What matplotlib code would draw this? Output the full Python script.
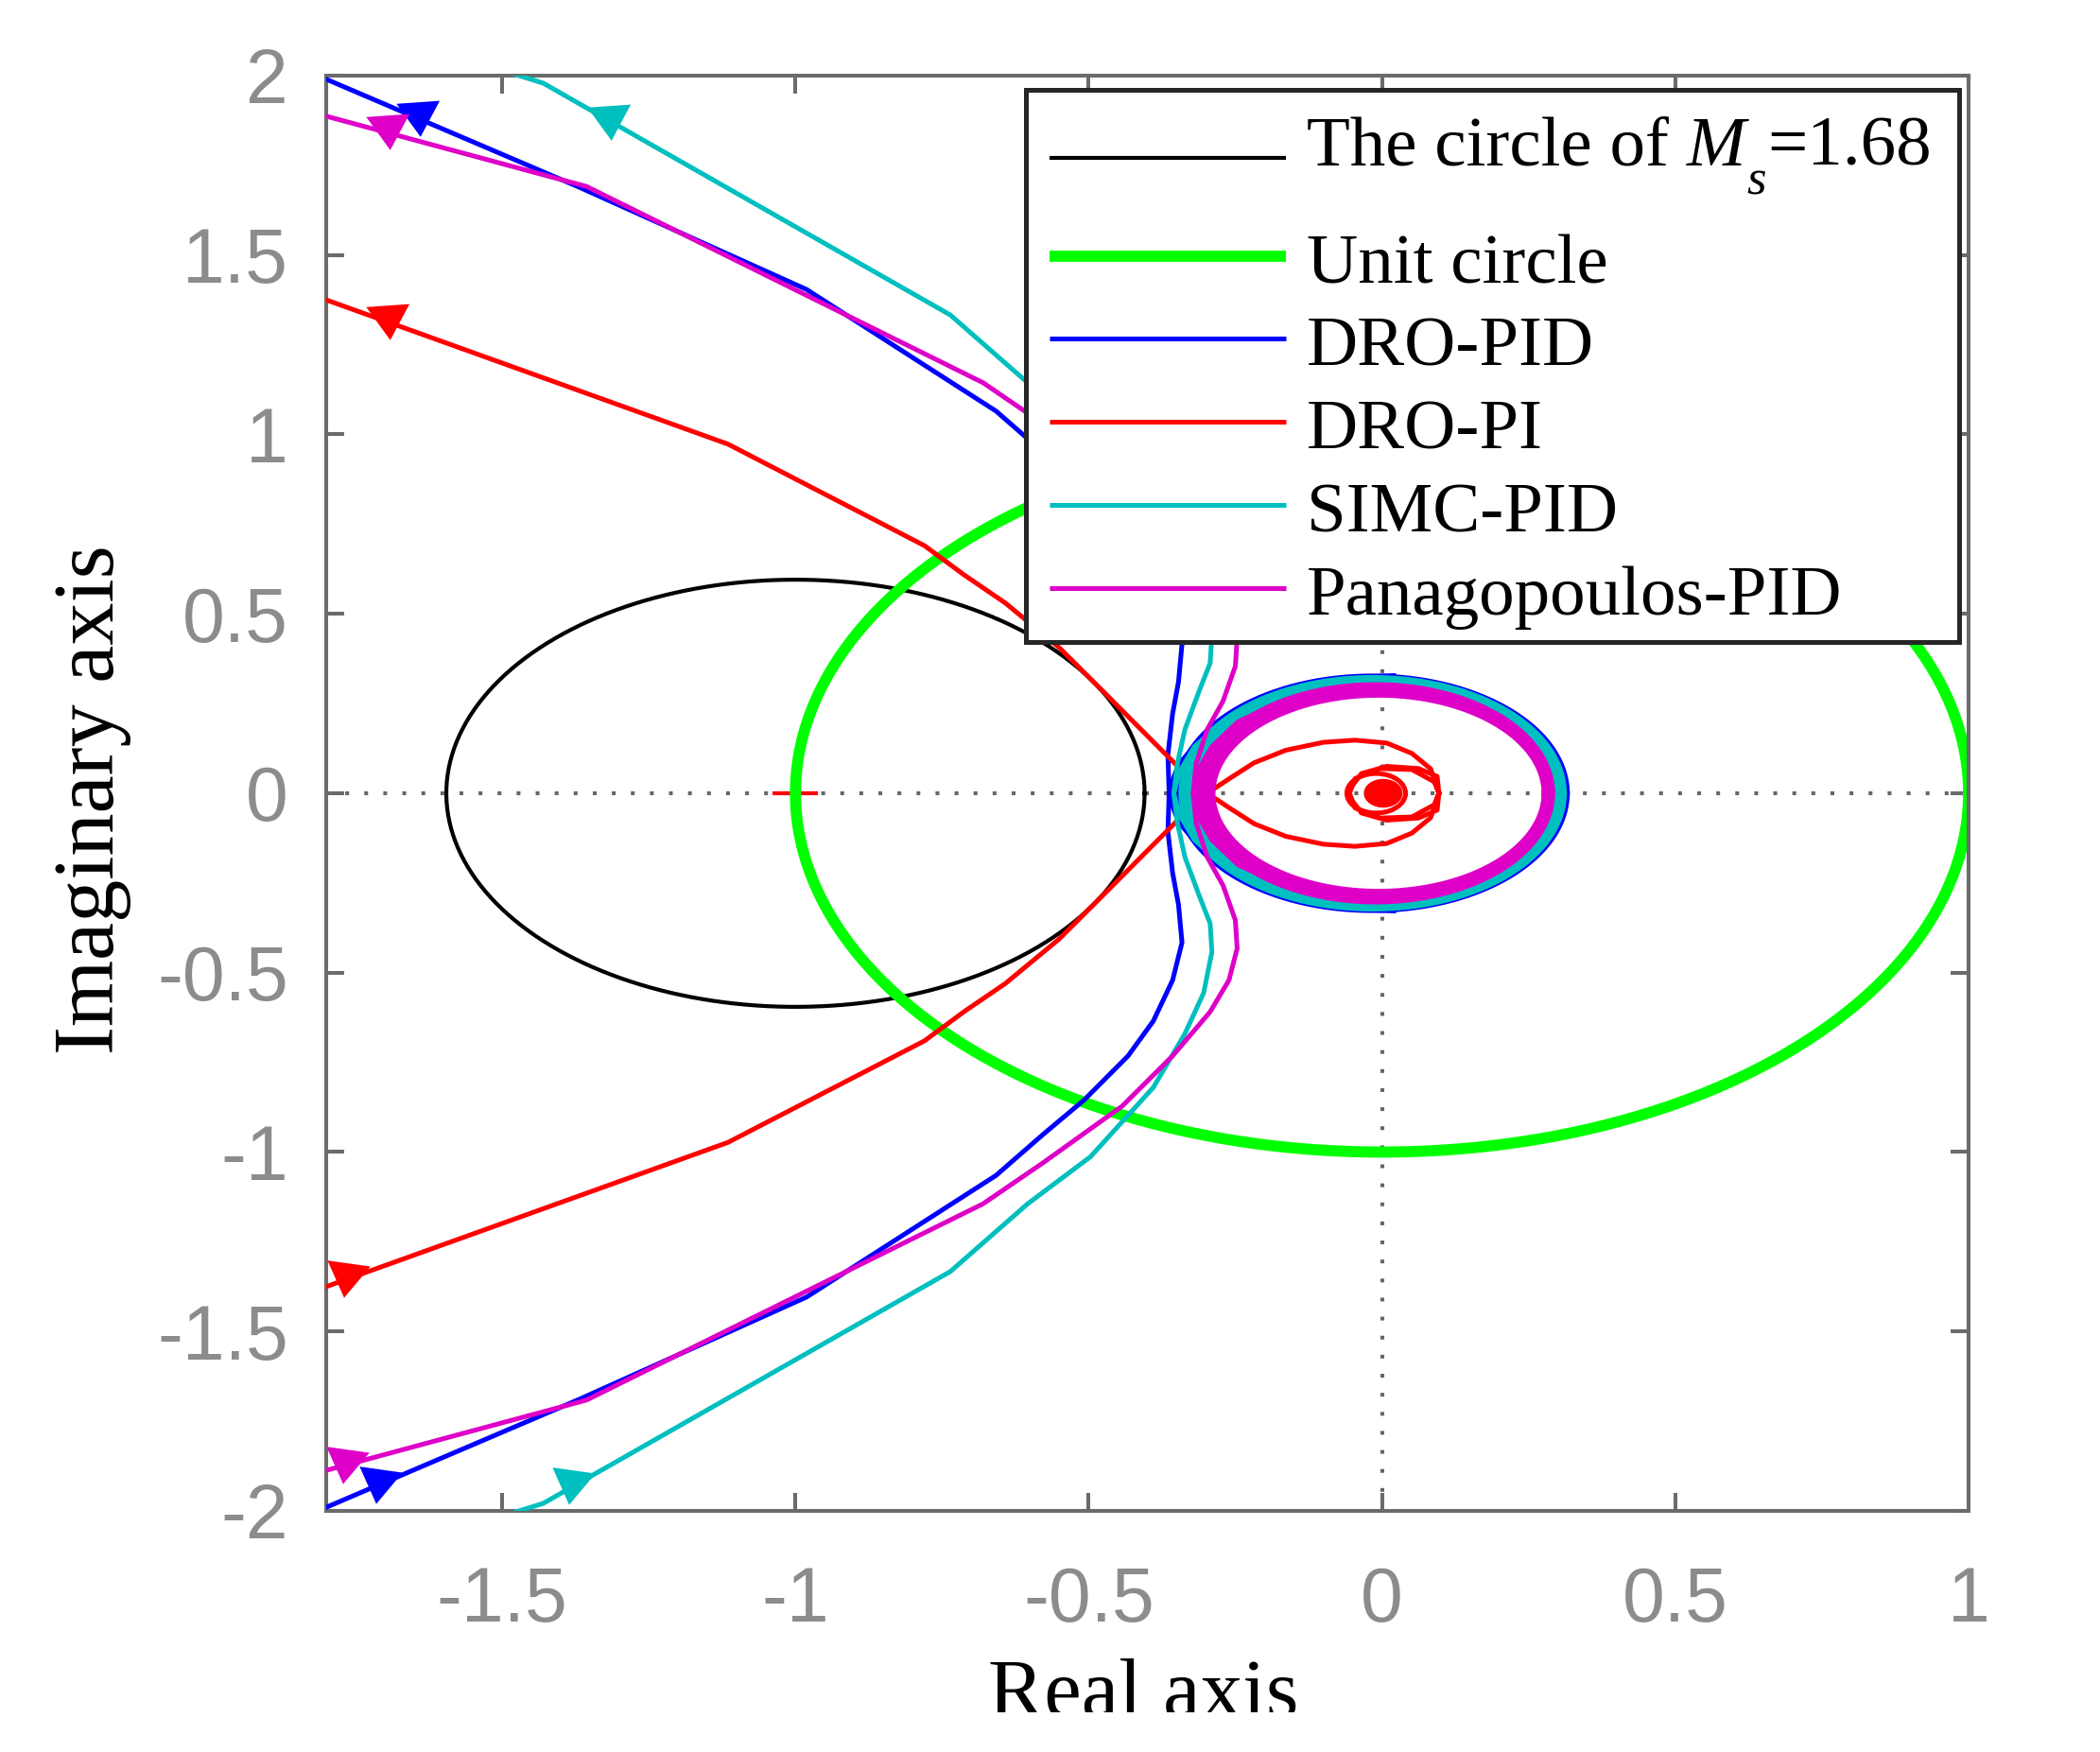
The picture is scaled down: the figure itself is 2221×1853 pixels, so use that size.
import numpy as np
import matplotlib
matplotlib.use("Agg")
import matplotlib.pyplot as plt
import matplotlib.patches as patches
from matplotlib.markers import MarkerStyle
from matplotlib.transforms import Affine2D
from matplotlib.ticker import FuncFormatter

plt.rcParams['axes.unicode_minus'] = False

# ---------------- data ----------------
ms_value = 1.68
ms_center = -1.0
unit_radius = 1.0
critical_point = (-1.0, 0.0)

# positive-frequency branches (the negative one is the mirror image)
dro_pid_x = [-1.800, -1.370, -0.981, -0.658, -0.578, -0.508, -0.433, -0.390, -0.357,
             -0.341, -0.347, -0.357, -0.365, -0.363, -0.356, -0.347, -0.314, -0.255,
             -0.175, -0.046, 0.020]
dro_pid_y = [-1.990, -1.690, -1.404, -1.065, -0.951, -0.855, -0.732, -0.635, -0.521,
             -0.416, -0.310, -0.222, -0.108, 0.000, 0.040, 0.080, 0.143, 0.222,
             0.275, 0.323, 0.328]

dro_pi_x = [-1.800, -1.115, -0.780, -0.712, -0.642, -0.551, -0.481, -0.411, -0.347,
            -0.298, -0.261, -0.218, -0.164, -0.100, -0.046, 0.008, 0.051, 0.083,
            0.097, 0.094, 0.062, 0.008, -0.035, -0.057, -0.046, -0.003, 0.051,
            0.089, 0.097]
dro_pi_y = [-1.375, -0.973, -0.690, -0.608, -0.530, -0.407, -0.293, -0.178, -0.073,
            0.000, 0.040, 0.085, 0.120, 0.142, 0.148, 0.140, 0.111, 0.068,
            0.000, -0.047, -0.069, -0.075, -0.055, -0.007, 0.041, 0.069, 0.066,
            0.032, 0.000]

simc_x = [-1.477, -1.430, -0.736, -0.604, -0.497, -0.390, -0.336, -0.304, -0.290,
          -0.293, -0.312, -0.336, -0.349, -0.355, -0.345, -0.320, -0.270, -0.190,
          -0.070, 0.000]
simc_y = [-2.003, -1.979, -1.333, -1.144, -1.013, -0.820, -0.670, -0.556, -0.442,
          -0.363, -0.284, -0.178, -0.082, 0.000, 0.060, 0.130, 0.200, 0.265,
          0.310, 0.318]

pana_x = [-1.800, -1.356, -0.680, -0.578, -0.443, -0.357, -0.293, -0.261, -0.247,
          -0.250, -0.271, -0.298, -0.317, -0.322, -0.315, -0.290, -0.245, -0.170,
          -0.060, 0.000]
pana_y = [-1.887, -1.691, -1.144, -1.030, -0.872, -0.732, -0.609, -0.521, -0.433,
          -0.354, -0.257, -0.178, -0.082, 0.000, 0.060, 0.130, 0.200, 0.255,
          0.295, 0.300]

# high-frequency loops around the origin: centre x, half-width, half-height
dro_pid_ring_cx = [-0.017, -0.016, -0.015]
dro_pid_ring_rx = [0.333, 0.327, 0.321]
dro_pid_ring_ry = [0.327, 0.322, 0.317]

simc_ring_cx = [-0.016, -0.015, -0.014, -0.013, -0.012]
simc_ring_rx = [0.327, 0.321, 0.315, 0.309, 0.303]
simc_ring_ry = [0.323, 0.317, 0.311, 0.305, 0.299]

pana_ring_cx = [-0.011, -0.010, -0.009, -0.008, -0.007, -0.006]
pana_ring_rx = [0.302, 0.298, 0.294, 0.290, 0.286, 0.282]
pana_ring_ry = [0.303, 0.297, 0.291, 0.285, 0.279, 0.273]

dro_pi_ring_cx = [-0.010]
dro_pi_ring_rx = [0.050]
dro_pi_ring_ry = [0.055]
dro_pi_dot = (0.002, 0.033, 0.040)   # cx, rx, ry of the dense end of the spiral

# direction arrows: (x, y) on upper and lower branch
arrow_up_x = {"blue": -1.642, "red": -1.694, "c": -1.316, "m": -1.694}
arrow_up_y = {"blue": 1.880, "red": 1.313, "c": 1.869, "m": 1.842}
arrow_lo_x = {"blue": -1.712, "red": -1.766, "c": -1.382, "m": -1.767}
arrow_lo_y = {"blue": -1.931, "red": -1.356, "c": -1.933, "m": -1.876}

x_ticks = [-1.5, -1, -0.5, 0, 0.5, 1]
y_ticks = [-2, -1.5, -1, -0.5, 0, 0.5, 1, 1.5, 2]

legend_labels = ["Unit circle", "DRO-PID", "DRO-PI", "SIMC-PID", "Panagopoulos-PID"]

COL = {"blue": "#0000ff", "red": "#ff0000", "c": "#00bfbf", "m": "#df00c8"}
LW = 3.6
SERIF = "Liberation Serif"

# ---------------- figure ----------------
fig = plt.figure(figsize=(22.21, 18.53), dpi=100)
ax = fig.add_axes([0.15534, 0.13762, 0.78208, 0.81921])

ax.axhline(0, color="#666666", lw=2.9, ls=(0, (1, 4)), zorder=0.5)
ax.axvline(0, color="#666666", lw=2.9, ls=(0, (1, 4)), zorder=0.5)

t = np.linspace(0, 2 * np.pi, 400)


def ellipse(cx, rx, ry):
    return cx + rx * np.cos(t), ry * np.sin(t)


ms_r = 1.0 / ms_value
ax.plot(ms_center + ms_r * np.cos(t), ms_r * np.sin(t), color="black", lw=3.0)
ax.plot(*critical_point, marker="+", ms=35, mew=3.0, color="red", zorder=1.5)
ax.plot(unit_radius * np.cos(t), unit_radius * np.sin(t),
        color="#00ff00", lw=8.5, zorder=2)

tri = [(-1, 0.8), (1, 0.8), (0, -0.8)]
arrow_up = MarkerStyle(tri, transform=Affine2D().rotate_deg(4))
arrow_lo = MarkerStyle(tri, transform=Affine2D().rotate_deg(-8))


def draw_branch(key, xs, ys, ring_cx, ring_rx, ring_ry, z):
    xs = np.asarray(xs)
    ys = np.asarray(ys)
    ax.plot(xs, ys, color=COL[key], lw=LW, zorder=z)
    ax.plot(xs, -ys, color=COL[key], lw=LW, zorder=z)
    for cx, rx, ry in zip(ring_cx, ring_rx, ring_ry):
        ax.plot(*ellipse(cx, rx, ry), color=COL[key], lw=LW, zorder=z)
    ax.plot(arrow_up_x[key], arrow_up_y[key], marker=arrow_up, ms=33,
            color=COL[key], mec="none", zorder=z)
    ax.plot(arrow_lo_x[key], arrow_lo_y[key], marker=arrow_lo, ms=33,
            color=COL[key], mec="none", zorder=z)


draw_branch("blue", dro_pid_x, dro_pid_y,
            dro_pid_ring_cx, dro_pid_ring_rx, dro_pid_ring_ry, 3)
draw_branch("red", dro_pi_x, dro_pi_y,
            dro_pi_ring_cx, dro_pi_ring_rx, dro_pi_ring_ry, 4)
ax.fill(*ellipse(*dro_pi_dot), color=COL["red"], lw=0, zorder=4)
draw_branch("c", simc_x, simc_y, simc_ring_cx, simc_ring_rx, simc_ring_ry, 5)
draw_branch("m", pana_x, pana_y, pana_ring_cx, pana_ring_rx, pana_ring_ry, 6)

# ---------------- axes styling ----------------
ax.set_xlim(-1.8, 1)
ax.set_ylim(-2, 2)
ax.set_xticks(x_ticks)
ax.set_yticks(y_ticks)
fmt = FuncFormatter(lambda v, p: f"{v:g}")
ax.xaxis.set_major_formatter(fmt)
ax.yaxis.set_major_formatter(fmt)
ax.tick_params(axis="both", direction="in", length=14, width=2.9, color="#6b6b6b",
               labelcolor="#8c8c8c", labelsize=58, top=True, right=True)
ax.tick_params(axis="x", pad=42)
ax.tick_params(axis="y", pad=29)
for lbl in ax.get_xticklabels() + ax.get_yticklabels():
    lbl.set_family("Liberation Sans")
for sp in ax.spines.values():
    sp.set_color("#6b6b6b")
    sp.set_linewidth(2.9)

fig.text(0.0440, 0.5434, "Imaginary axis", rotation=90, ha="center", va="center",
         fontsize=65, family=SERIF)
fig.text(0.5444, 0.0200, "Real axis", ha="center", va="baseline",
         fontsize=64, family=SERIF)
# the reference image is cut just above the baseline of the x label
fig.add_artist(patches.Rectangle((0, 0), 1, 0.0227, transform=fig.transFigure,
                                 facecolor="white", edgecolor="none", zorder=20))

# ---------------- legend (drawn by hand, MATLAB style) ----------------
tr = ax.transAxes
ax.add_patch(patches.Rectangle((0.4260, 0.6054), 0.5682, 0.3847, transform=tr,
                               facecolor="white", edgecolor="#262626", lw=3.6,
                               zorder=10, clip_on=False))
hx0, hx1, tx = 0.4402, 0.5843, 0.5970
row_line_y = [0.9430, 0.8740, 0.8166, 0.7588, 0.7008, 0.6430]
row_text_y = [0.9377, 0.8555, 0.7982, 0.7404, 0.6824, 0.6246]
row_style = [("black", 3.0), ("#00ff00", 8.5), (COL["blue"], LW), (COL["red"], LW),
             (COL["c"], LW), (COL["m"], LW)]
for yl, (c, lw) in zip(row_line_y, row_style):
    ax.plot([hx0, hx1], [yl, yl], transform=tr, color=c, lw=lw, zorder=11,
            solid_capstyle="butt", clip_on=False)

FS = 54
t1 = ax.text(tx, row_text_y[0], "The circle of ", transform=tr, fontsize=FS,
             family=SERIF, va="baseline", zorder=12)
t2 = ax.annotate("M", xy=(1, 0), xycoords=t1, va="bottom", ha="left", fontsize=FS,
                 family=SERIF, style="italic", zorder=12)
t3 = ax.annotate("s", xy=(1, 0), xycoords=t2, xytext=(1, -19), textcoords="offset points",
                 va="bottom", ha="left", fontsize=38, family=SERIF, style="italic",
                 zorder=12)
ax.annotate("=1.68", xy=(1, 0), xycoords=(t3, t2), xytext=(1, 0),
            textcoords="offset points", va="bottom", ha="left", fontsize=FS,
            family=SERIF, zorder=12)
for yt, lab in zip(row_text_y[1:], legend_labels):
    ax.text(tx, yt, lab, transform=tr, fontsize=FS, family=SERIF, va="baseline",
            zorder=12)

fig.savefig("out.png", dpi=100)
